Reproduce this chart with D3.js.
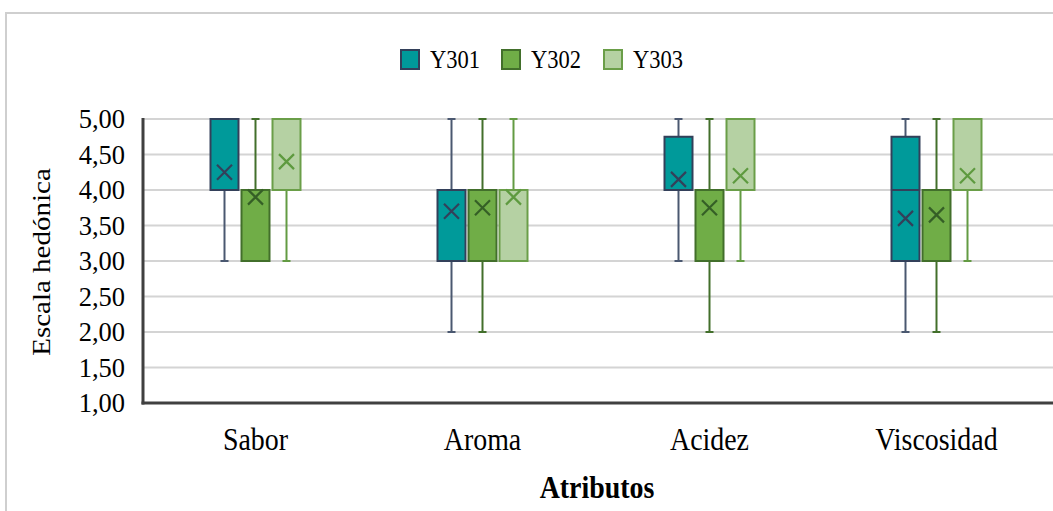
<!DOCTYPE html>
<html><head><meta charset="utf-8">
<script src="https://cdn.jsdelivr.net/npm/d3@7"></script>
<style>body{margin:0;background:#fff}svg{display:block}text{font-family:"Liberation Serif","Times New Roman",serif;fill:#000}</style>
</head><body><svg id="c" width="1053" height="511"></svg>
<script>
const categories = ["Sabor","Aroma","Acidez","Viscosidad"];
const series = ["Y301","Y302","Y303"];
// per series, per category
const minV = [[3,2,3,2],[3,2,2,2],[3,3,3,3]];
const q1V  = [[4,3,4,3],[3,3,3,3],[4,3,4,4]];
const medV = [[4,4,4,4],[4,4,4,4],[4,4,4,4]];
const q3V  = [[5,4,4.75,4.75],[4,4,4,4],[5,4,5,5]];
const maxV = [[5,5,5,5],[5,5,5,5],[5,5,5,5]];
const meanV= [[4.25,3.7,4.15,3.6],[3.9,3.75,3.75,3.65],[4.4,3.9,4.2,4.2]];
const yTicks = [1,1.5,2,2.5,3,3.5,4,4.5,5];

const fills   = ["#009a9a","#70ad47","#b5d1a3"];
const strokes = ["#33405a","#426f2b","#6a9e48"];
const whisk   = ["#4a5870","#426f2b","#639b43"];
const marks   = ["#33405a","#355f26","#5e9a3f"];

const svg = d3.select("#c");
const X0=143, X1=1053, Y0=403, Y1=119;
const x = d3.scaleBand().domain(categories).range([142,1050]);
const xs = d3.scalePoint().domain(series).range([-31,31]);
const y = d3.scaleLinear().domain([1,5]).range([Y0,Y1]);
const SX = 0.9;

// frame
svg.append("rect").attr("x",6).attr("y",13).attr("width",1100).attr("height",600)
  .attr("fill","none").attr("stroke","#cfcfcf").attr("stroke-width",2);

// gridlines
svg.append("g").selectAll("line").data(yTicks.filter(t=>t>1)).join("line")
  .attr("x1",X0).attr("x2",X1).attr("y1",d=>y(d)).attr("y2",d=>y(d))
  .attr("stroke","#d4d4d4").attr("stroke-width",2);

// y axis labels
const ya = svg.append("g").attr("transform",`translate(${X0},0)`)
  .call(d3.axisLeft(y).tickValues(yTicks).tickSize(0).tickFormat(d=>d.toFixed(2).replace(".",",")));
ya.select(".domain").remove();
ya.attr("font-size",null).attr("font-family",null);
ya.selectAll("text").style("font-size","26.5px").style("font-family","'Liberation Serif',serif")
  .attr("fill","#000").attr("x",-18).attr("dy","0.33em");

// boxes
const W=28;
series.forEach((s,i)=>{
  const g = svg.append("g");
  categories.forEach((c,j)=>{
    const cx = x(c)+x.bandwidth()/2+xs(s);
    if(maxV[i][j]>q3V[i][j]){
      g.append("line").attr("x1",cx).attr("x2",cx).attr("y1",y(maxV[i][j])).attr("y2",y(q3V[i][j])).attr("stroke",whisk[i]).attr("stroke-width",2);
      g.append("line").attr("x1",cx-4).attr("x2",cx+4).attr("y1",y(maxV[i][j])).attr("y2",y(maxV[i][j])).attr("stroke",whisk[i]).attr("stroke-width",2);
    }
    if(minV[i][j]<q1V[i][j]){
      g.append("line").attr("x1",cx).attr("x2",cx).attr("y1",y(minV[i][j])).attr("y2",y(q1V[i][j])).attr("stroke",whisk[i]).attr("stroke-width",2);
      g.append("line").attr("x1",cx-4).attr("x2",cx+4).attr("y1",y(minV[i][j])).attr("y2",y(minV[i][j])).attr("stroke",whisk[i]).attr("stroke-width",2);
    }
    g.append("rect").attr("x",cx-W/2).attr("y",y(q3V[i][j])).attr("width",W)
      .attr("height",y(q1V[i][j])-y(q3V[i][j])).attr("fill",fills[i]).attr("stroke",strokes[i]).attr("stroke-width",2);
    g.append("line").attr("x1",cx-W/2).attr("x2",cx+W/2).attr("y1",y(medV[i][j])).attr("y2",y(medV[i][j])).attr("stroke",strokes[i]).attr("stroke-width",2);
    const my=y(meanV[i][j]), r=7.5;
    g.append("path").attr("d",`M${cx-r},${my-r}L${cx+r},${my+r}M${cx-r},${my+r}L${cx+r},${my-r}`)
      .attr("stroke",marks[i]).attr("stroke-width",2.2).attr("fill","none");
  });
});

// axes lines
svg.append("line").attr("x1",X0).attr("x2",X0).attr("y1",Y1-1).attr("y2",Y0+1.5).attr("stroke","#404040").attr("stroke-width",3);
svg.append("line").attr("x1",X0-1.5).attr("x2",X1).attr("y1",Y0).attr("y2",Y0).attr("stroke","#404040").attr("stroke-width",3);

// x axis labels
const xa = svg.append("g").attr("transform",`translate(0,${Y0})`).call(d3.axisBottom(x).tickSize(0));
xa.select(".domain").remove();
xa.attr("font-size",null).attr("font-family",null);
xa.selectAll(".tick text").style("font-size","31px").style("font-family","'Liberation Serif',serif").attr("fill","#000")
  .attr("y",0).attr("dy","0").attr("transform",`translate(0,47) scale(${SX},1)`);

// axis titles
svg.append("text").attr("transform",`translate(597,498) scale(${SX},1)`).attr("text-anchor","middle")
  .style("font-size","31px").attr("font-weight","bold").text("Atributos");
svg.append("text").attr("transform",`translate(50,262) rotate(-90) scale(1,${SX})`).attr("text-anchor","middle")
  .style("font-size","29px").text("Escala hedónica");

// legend
const lg = svg.append("g");
const lx = [400,501,603];
series.forEach((s,i)=>{
  lg.append("rect").attr("x",lx[i]+1).attr("y",50).attr("width",18).attr("height",19)
    .attr("fill",fills[i]).attr("stroke",strokes[i]).attr("stroke-width",2);
  lg.append("text").attr("transform",`translate(${lx[i]+30},68) scale(${SX},1)`).style("font-size","25px").text(s);
});
</script></body></html>
